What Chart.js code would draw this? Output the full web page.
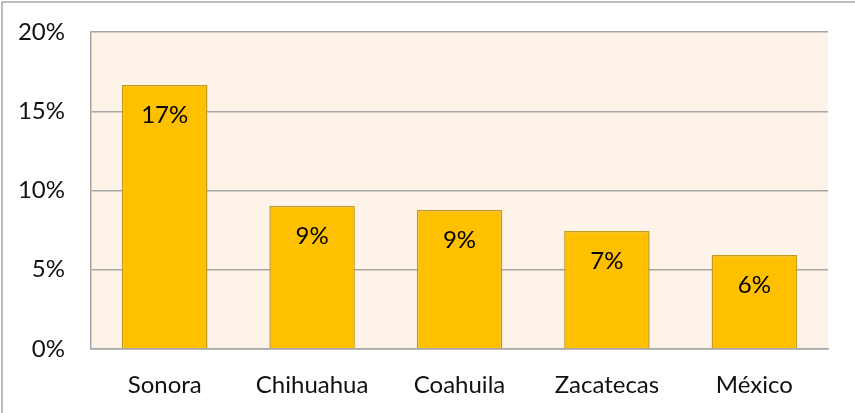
<!DOCTYPE html>
<html>
<head>
<meta charset="utf-8">
<script src="https://cdn.jsdelivr.net/npm/chart.js@4"></script>
<style>
  html, body { margin: 0; padding: 0; background: #fff; }
</style>
</head>
<body>
<canvas id="myChart" width="855" height="413"></canvas>
<script>
const estados = ['Sonora', 'Chihuahua', 'Coahuila', 'Zacatecas', 'México']
const porcentajes = [0.1666, 0.0902, 0.0877, 0.0744, 0.0593]
const yMax = 0.2
const yStep = 0.05

const fuente = 'Lato, "Open Sans", sans-serif'
const tam = 24

// fondo del área de trazado y marco exterior
const fondo = {
  id: 'fondo',
  beforeDraw(chart) {
    const { ctx, chartArea: a } = chart
    ctx.save()
    ctx.fillStyle = '#FEF3E8'
    ctx.fillRect(a.left, a.top, a.right - a.left, a.bottom - a.top)
    ctx.strokeStyle = '#A6A6A6'
    ctx.lineWidth = 1.5
    ctx.beginPath()
    ctx.moveTo(2, chart.height)
    ctx.lineTo(2, 2)
    ctx.lineTo(chart.width, 2)
    ctx.stroke()
    ctx.restore()
  }
}

// etiquetas de valor dentro de cada barra
const etiquetas = {
  id: 'etiquetas',
  afterDatasetsDraw(chart) {
    const { ctx } = chart
    const meta = chart.getDatasetMeta(0)
    ctx.save()
    ctx.font = tam + 'px ' + fuente
    ctx.fillStyle = '#000'
    ctx.textAlign = 'center'
    ctx.textBaseline = 'middle'
    meta.data.forEach((bar, i) => {
      const txt = Math.round(porcentajes[i] * 100) + '%'
      ctx.fillText(txt, bar.x, bar.y + 30)
    })
    ctx.restore()
  }
}

const ctx = document.getElementById('myChart')

new Chart(ctx, {
  type: 'bar',
  data: {
    labels: estados,
    datasets: [{
      data: porcentajes,
      backgroundColor: '#FFC000',
      borderColor: '#C49A1C',
      borderWidth: 1.5,
      barPercentage: 0.58,
      categoryPercentage: 1
    }]
  },
  options: {
    responsive: false,
    animation: false,
    layout: {
      padding: { top: 32, right: 27, left: 0, bottom: 0 }
    },
    plugins: {
      legend: { display: false },
      tooltip: { enabled: false }
    },
    scales: {
      x: {
        grid: { display: false, drawTicks: false },
        border: { color: '#A6A6A6', width: 1.5 },
        ticks: {
          color: '#111',
          padding: 22,
          font: { family: fuente, size: tam }
        },
        afterFit(scale) {
          scale.height = 64
          scale.paddingLeft = 0
          scale.paddingRight = 0
        }
      },
      y: {
        min: 0,
        max: yMax,
        grid: { color: '#A6A6A6', lineWidth: 1.5, drawTicks: false },
        border: { color: '#A6A6A6', width: 1.5 },
        ticks: {
          stepSize: yStep,
          color: '#111',
          padding: 26,
          font: { family: fuente, size: tam },
          callback: v => Math.round(v * 100) + '%'
        },
        afterFit(scale) {
          scale.width = 91
          scale.paddingTop = 0
          scale.paddingBottom = 0
        }
      }
    }
  },
  plugins: [fondo, etiquetas]
})
</script>
</body>
</html>
